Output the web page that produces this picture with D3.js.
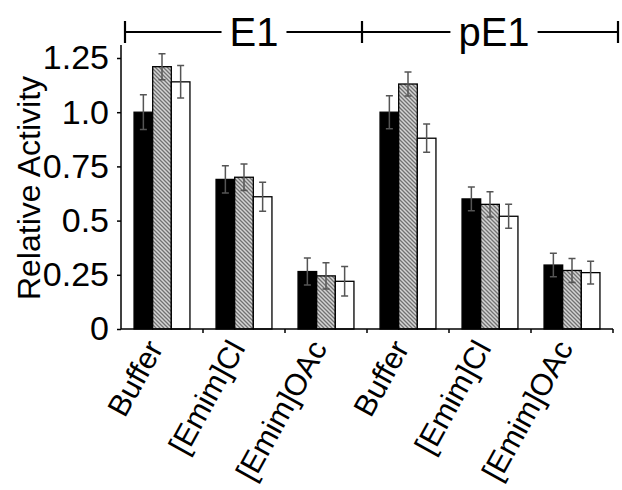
<!DOCTYPE html>
<html>
<head>
<meta charset="utf-8">
<script src="https://cdn.jsdelivr.net/npm/d3@7"></script>
<style>
  html, body { margin: 0; padding: 0; background: #fff; }
  svg { display: block; font-family: "Liberation Sans", Arial, Helvetica, sans-serif; }
</style>
</head>
<body>
<svg id="chart" width="622" height="490"></svg>
<script>
// Categories along the x axis (two enzymes, three conditions each)
const categories = ["Buffer", "[Emim]Cl", "[Emim]OAc", "Buffer", "[Emim]Cl", "[Emim]OAc"];
const enzymes = ["E1", "pE1"];
const enzymeCenters = [254, 494];

// Relative activity per series (solid, hatched, open) and their error bars
const solidValues   = [1.00, 0.69, 0.265, 1.00, 0.60, 0.295];
const hatchedValues = [1.21, 0.70, 0.245, 1.13, 0.575, 0.27];
const openValues    = [1.14, 0.61, 0.22, 0.88, 0.52, 0.26];
const solidErrors   = [0.08, 0.063, 0.062, 0.076, 0.055, 0.054];
const hatchedErrors = [0.06, 0.061, 0.061, 0.055, 0.058, 0.055];
const openErrors    = [0.075, 0.067, 0.068, 0.065, 0.055, 0.053];

const yTicks = [0, 0.25, 0.5, 0.75, 1.0, 1.25];
const yTickLabels = ["0", "0.25", "0.5", "0.75", "1.0", "1.25"];
const yAxisTop = 1.31;

const seriesKeys = ["solid", "hatched", "open"];
const seriesValues = { solid: solidValues, hatched: hatchedValues, open: openValues };
const seriesErrors = { solid: solidErrors, hatched: hatchedErrors, open: openErrors };

const svg = d3.select("#chart");

// Hatch fill for the middle series
const defs = svg.append("defs");
const pat = defs.append("pattern")
  .attr("id", "hatch")
  .attr("patternUnits", "userSpaceOnUse")
  .attr("width", 4).attr("height", 4);
pat.append("rect").attr("width", 4).attr("height", 4).attr("fill", "#d4d4d4");
pat.append("path")
  .attr("d", "M-1,-1 L5,5 M-1,3 L1,5 M3,-1 L5,1")
  .attr("stroke", "#727272").attr("stroke-width", 1.3);

const fills = { solid: "#000", hatched: "url(#hatch)", open: "#fff" };

const left = 121, right = 613, baseY = 329, topY = 58;

const x = d3.scaleBand().domain(d3.range(categories.length)).range([left, right]).padding(0);
const xs = d3.scaleBand().domain(seriesKeys).range([0, x.bandwidth()]).paddingInner(0).paddingOuter(0.7);
const y = d3.scaleLinear().domain([0, 1.25]).range([baseY, topY]);

// Bars
const rows = [];
categories.forEach((c, i) => {
  seriesKeys.forEach(k => rows.push({ i, k, v: seriesValues[k][i], e: seriesErrors[k][i] }));
});

svg.append("g").selectAll("rect").data(rows).join("rect")
  .attr("x", d => x(d.i) + xs(d.k))
  .attr("y", d => y(d.v))
  .attr("width", xs.bandwidth())
  .attr("height", d => y(0) - y(d.v))
  .attr("fill", d => fills[d.k])
  .attr("stroke", "#000")
  .attr("stroke-width", 1.3);

// Error bars
const eg = svg.append("g").attr("stroke", "#555").attr("stroke-width", 1.5).attr("fill", "none");
rows.forEach(d => {
  const cx = x(d.i) + xs(d.k) + xs.bandwidth() / 2;
  const y1 = y(d.v + d.e), y2 = y(d.v - d.e);
  eg.append("path").attr("d", `M${cx},${y1}V${y2}M${cx - 3.5},${y1}h7M${cx - 3.5},${y2}h7`);
});

// Y axis
const yAxis = d3.axisLeft(y)
  .tickValues(yTicks)
  .tickFormat((d, i) => yTickLabels[i])
  .tickSize(4)
  .tickSizeOuter(0)
  .tickPadding(8);
const ya = svg.append("g").attr("transform", `translate(${left},0)`).call(yAxis);
ya.select(".domain")
  .attr("d", `M0,${y(0)}V${y(yAxisTop)}`)
  .attr("stroke", "#000").attr("stroke-width", 1.5);
ya.selectAll(".tick line").attr("stroke", "#000").attr("stroke-width", 1.5);
ya.selectAll(".tick text")
  .attr("font-size", 34)
  .attr("font-family", "Liberation Sans, Arial, sans-serif")
  .attr("fill", "#000");

// X axis with ticks at the category boundaries
const xa = svg.append("g").attr("stroke", "#000").attr("stroke-width", 1.5);
xa.append("line").attr("x1", left).attr("x2", right).attr("y1", baseY).attr("y2", baseY);
d3.range(1, categories.length + 1).forEach(i => {
  const bx = i < categories.length ? x(i) : right;
  xa.append("line").attr("x1", bx).attr("x2", bx).attr("y1", baseY).attr("y2", baseY + 4);
});

// Category labels, rotated
svg.append("g").selectAll("text").data(categories).join("text")
  .attr("transform", (d, i) => `translate(${x(i) + x.bandwidth() / 2 + 2},${baseY + 19}) rotate(-61)`)
  .attr("text-anchor", "end")
  .attr("font-size", 30.5)
  .attr("fill", "#000")
  .text(d => d);

// Y axis title
svg.append("text")
  .attr("transform", `translate(40,188) rotate(-90)`)
  .attr("text-anchor", "middle")
  .attr("font-size", 32)
  .attr("fill", "#000")
  .text("Relative Activity");

// Enzyme brackets across the top
const bracketY = 32;
const bx0 = left + 4, bxMid = x(3) - 5, bx1 = right + 5;
const bg = svg.append("g");
const brk = bg.append("g").attr("stroke", "#000").attr("stroke-width", 2.2);
[bx0, bxMid, bx1].forEach(v => {
  brk.append("line").attr("x1", v).attr("x2", v).attr("y1", bracketY - 11).attr("y2", bracketY + 11);
});
const spans = [[bx0, bxMid], [bxMid, bx1]];
enzymes.forEach((name, j) => {
  const t = bg.append("text")
    .attr("x", enzymeCenters[j])
    .attr("y", bracketY + 14)
    .attr("text-anchor", "middle")
    .attr("font-size", 40)
    .attr("fill", "#000")
    .text(name);
  const bb = t.node().getBBox();
  brk.append("line").attr("x1", spans[j][0]).attr("x2", bb.x - 8).attr("y1", bracketY).attr("y2", bracketY);
  brk.append("line").attr("x1", bb.x + bb.width + 8).attr("x2", spans[j][1]).attr("y1", bracketY).attr("y2", bracketY);
});
</script>
</body>
</html>
